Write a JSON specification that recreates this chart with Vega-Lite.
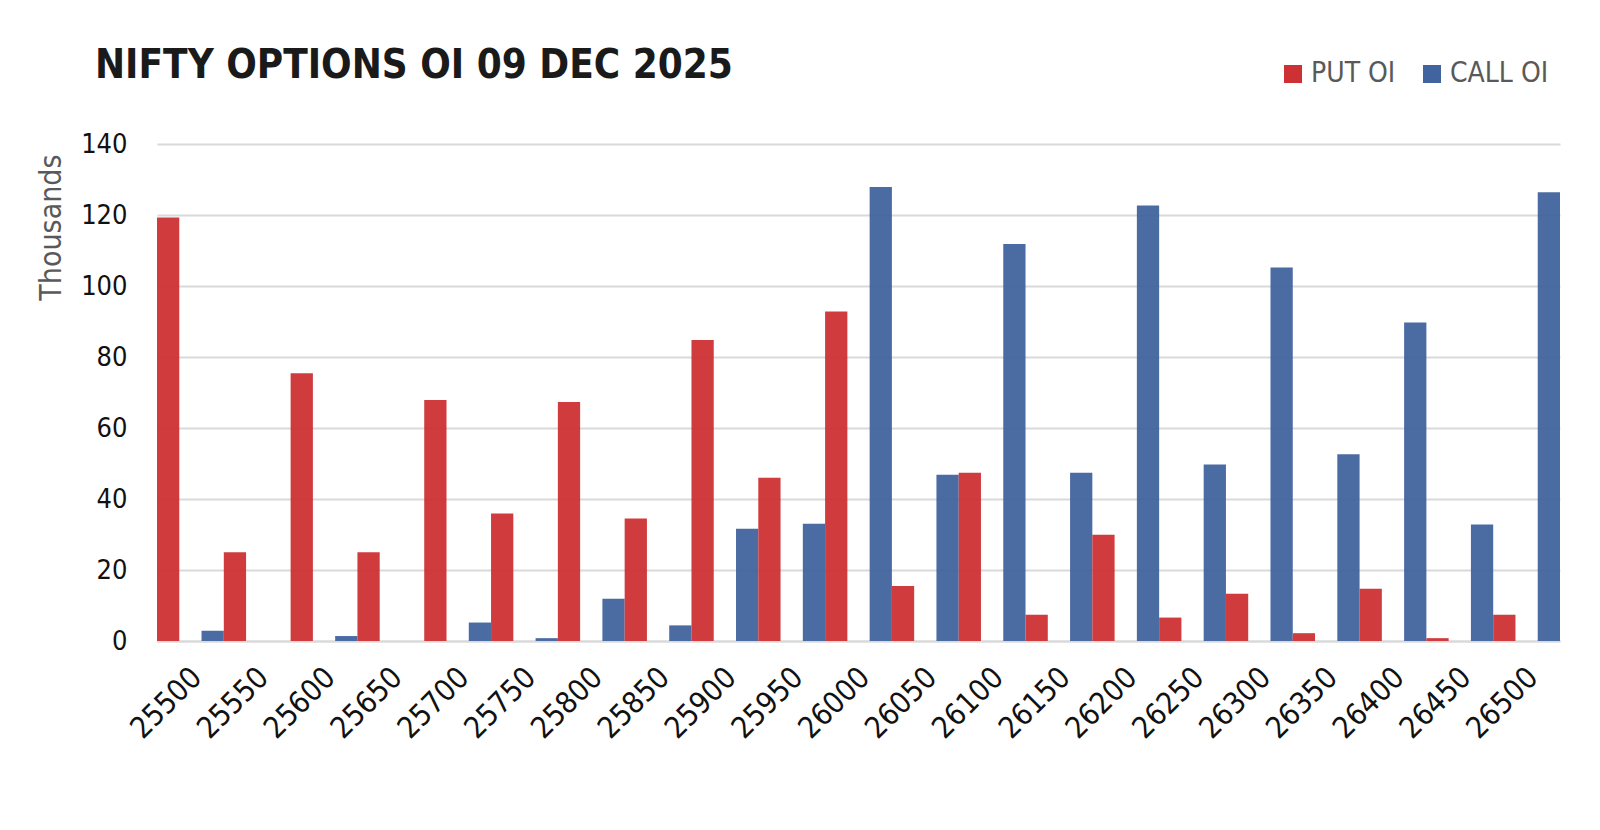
{
  "$schema": "https://vega.github.io/schema/vega-lite/v6.json",
  "width": 1403,
  "height": 497,
  "autosize": {"type": "none"},
  "padding": {"left": 157, "top": 144, "right": 40, "bottom": 189},
  "background": "#ffffff",
  "title": {
    "text": "NIFTY OPTIONS OI 09 DEC 2025",
    "anchor": "start",
    "frame": "group",
    "dx": -62,
    "dy": 66,
    "offset": 40,
    "font": "DejaVu Sans Condensed, DejaVu Sans",
    "fontSize": 40,
    "fontWeight": "bold",
    "color": "#1a1a1a"
  },
  "config": {
    "view": {"stroke": null},
    "font": "DejaVu Sans Condensed, DejaVu Sans"
  },
  "data": {
    "values": [
      {"strike": "25500", "type": "PUT OI", "oi": 119.3},
      {"strike": "25500", "type": "CALL OI", "oi": 2.9},
      {"strike": "25550", "type": "PUT OI", "oi": 25},
      {"strike": "25550", "type": "CALL OI", "oi": 0},
      {"strike": "25600", "type": "PUT OI", "oi": 75.4},
      {"strike": "25600", "type": "CALL OI", "oi": 1.4},
      {"strike": "25650", "type": "PUT OI", "oi": 25},
      {"strike": "25650", "type": "CALL OI", "oi": 0},
      {"strike": "25700", "type": "PUT OI", "oi": 67.9},
      {"strike": "25700", "type": "CALL OI", "oi": 5.2},
      {"strike": "25750", "type": "PUT OI", "oi": 35.9},
      {"strike": "25750", "type": "CALL OI", "oi": 0.8},
      {"strike": "25800", "type": "PUT OI", "oi": 67.3},
      {"strike": "25800", "type": "CALL OI", "oi": 11.9},
      {"strike": "25850", "type": "PUT OI", "oi": 34.5},
      {"strike": "25850", "type": "CALL OI", "oi": 4.4},
      {"strike": "25900", "type": "PUT OI", "oi": 84.8},
      {"strike": "25900", "type": "CALL OI", "oi": 31.6},
      {"strike": "25950", "type": "PUT OI", "oi": 46},
      {"strike": "25950", "type": "CALL OI", "oi": 33},
      {"strike": "26000", "type": "PUT OI", "oi": 92.8},
      {"strike": "26000", "type": "CALL OI", "oi": 127.9},
      {"strike": "26050", "type": "PUT OI", "oi": 15.5},
      {"strike": "26050", "type": "CALL OI", "oi": 46.8},
      {"strike": "26100", "type": "PUT OI", "oi": 47.4},
      {"strike": "26100", "type": "CALL OI", "oi": 111.8},
      {"strike": "26150", "type": "PUT OI", "oi": 7.4},
      {"strike": "26150", "type": "CALL OI", "oi": 47.4},
      {"strike": "26200", "type": "PUT OI", "oi": 29.9},
      {"strike": "26200", "type": "CALL OI", "oi": 122.7},
      {"strike": "26250", "type": "PUT OI", "oi": 6.6},
      {"strike": "26250", "type": "CALL OI", "oi": 49.7},
      {"strike": "26300", "type": "PUT OI", "oi": 13.3},
      {"strike": "26300", "type": "CALL OI", "oi": 105.2},
      {"strike": "26350", "type": "PUT OI", "oi": 2.2},
      {"strike": "26350", "type": "CALL OI", "oi": 52.6},
      {"strike": "26400", "type": "PUT OI", "oi": 14.7},
      {"strike": "26400", "type": "CALL OI", "oi": 89.7},
      {"strike": "26450", "type": "PUT OI", "oi": 0.8},
      {"strike": "26450", "type": "CALL OI", "oi": 32.8},
      {"strike": "26500", "type": "PUT OI", "oi": 7.4},
      {"strike": "26500", "type": "CALL OI", "oi": 126.4}
    ]
  },
  "mark": {"type": "bar", "opacity": 0.95},
  "encoding": {
    "x": {
      "field": "strike",
      "type": "ordinal",
      "sort": null,
      "scale": {"paddingInner": 0, "paddingOuter": 0},
      "axis": {
        "title": null,
        "labelAngle": -45,
        "labelFontSize": 30,
        "labelColor": "#111111",
        "labelPadding": 21,
        "labelOffset": -4,
        "ticks": false,
        "domain": true,
        "domainColor": "#d9d9d9",
        "domainWidth": 2,
        "grid": false
      }
    },
    "xOffset": {
      "field": "type",
      "type": "nominal",
      "scale": {"domain": ["PUT OI", "CALL OI"], "paddingInner": 0.5, "paddingOuter": 0}
    },
    "y": {
      "field": "oi",
      "type": "quantitative",
      "scale": {"domain": [0, 140], "nice": false},
      "axis": {
        "title": "Thousands",
        "titleFontSize": 30,
        "titleFontWeight": "normal",
        "titleColor": "#595959",
        "titleAnchor": "end",
        "titleAlign": "right",
        "titleBaseline": "middle",
        "titleAngle": -90,
        "titleX": -106,
        "titleY": 10,
        "values": [0, 20, 40, 60, 80, 100, 120, 140],
        "labelFontSize": 27,
        "labelColor": "#111111",
        "labelPadding": 30,
        "ticks": false,
        "tickSize": 0,
        "domain": false,
        "gridColor": "#d9d9d9",
        "gridWidth": 2
      }
    },
    "color": {
      "field": "type",
      "type": "nominal",
      "scale": {"domain": ["PUT OI", "CALL OI"], "range": ["#CE3134", "#41639E"]},
      "legend": {
        "title": null,
        "orient": "none",
        "direction": "horizontal",
        "legendX": 1122,
        "legendY": -84,
        "symbolType": "square",
        "symbolSize": 324,
        "symbolStrokeWidth": 0,
        "symbolOpacity": 1,
        "labelFontSize": 28,
        "labelColor": "#595959",
        "labelOffset": 4,
        "columnPadding": 22
      }
    }
  }
}
